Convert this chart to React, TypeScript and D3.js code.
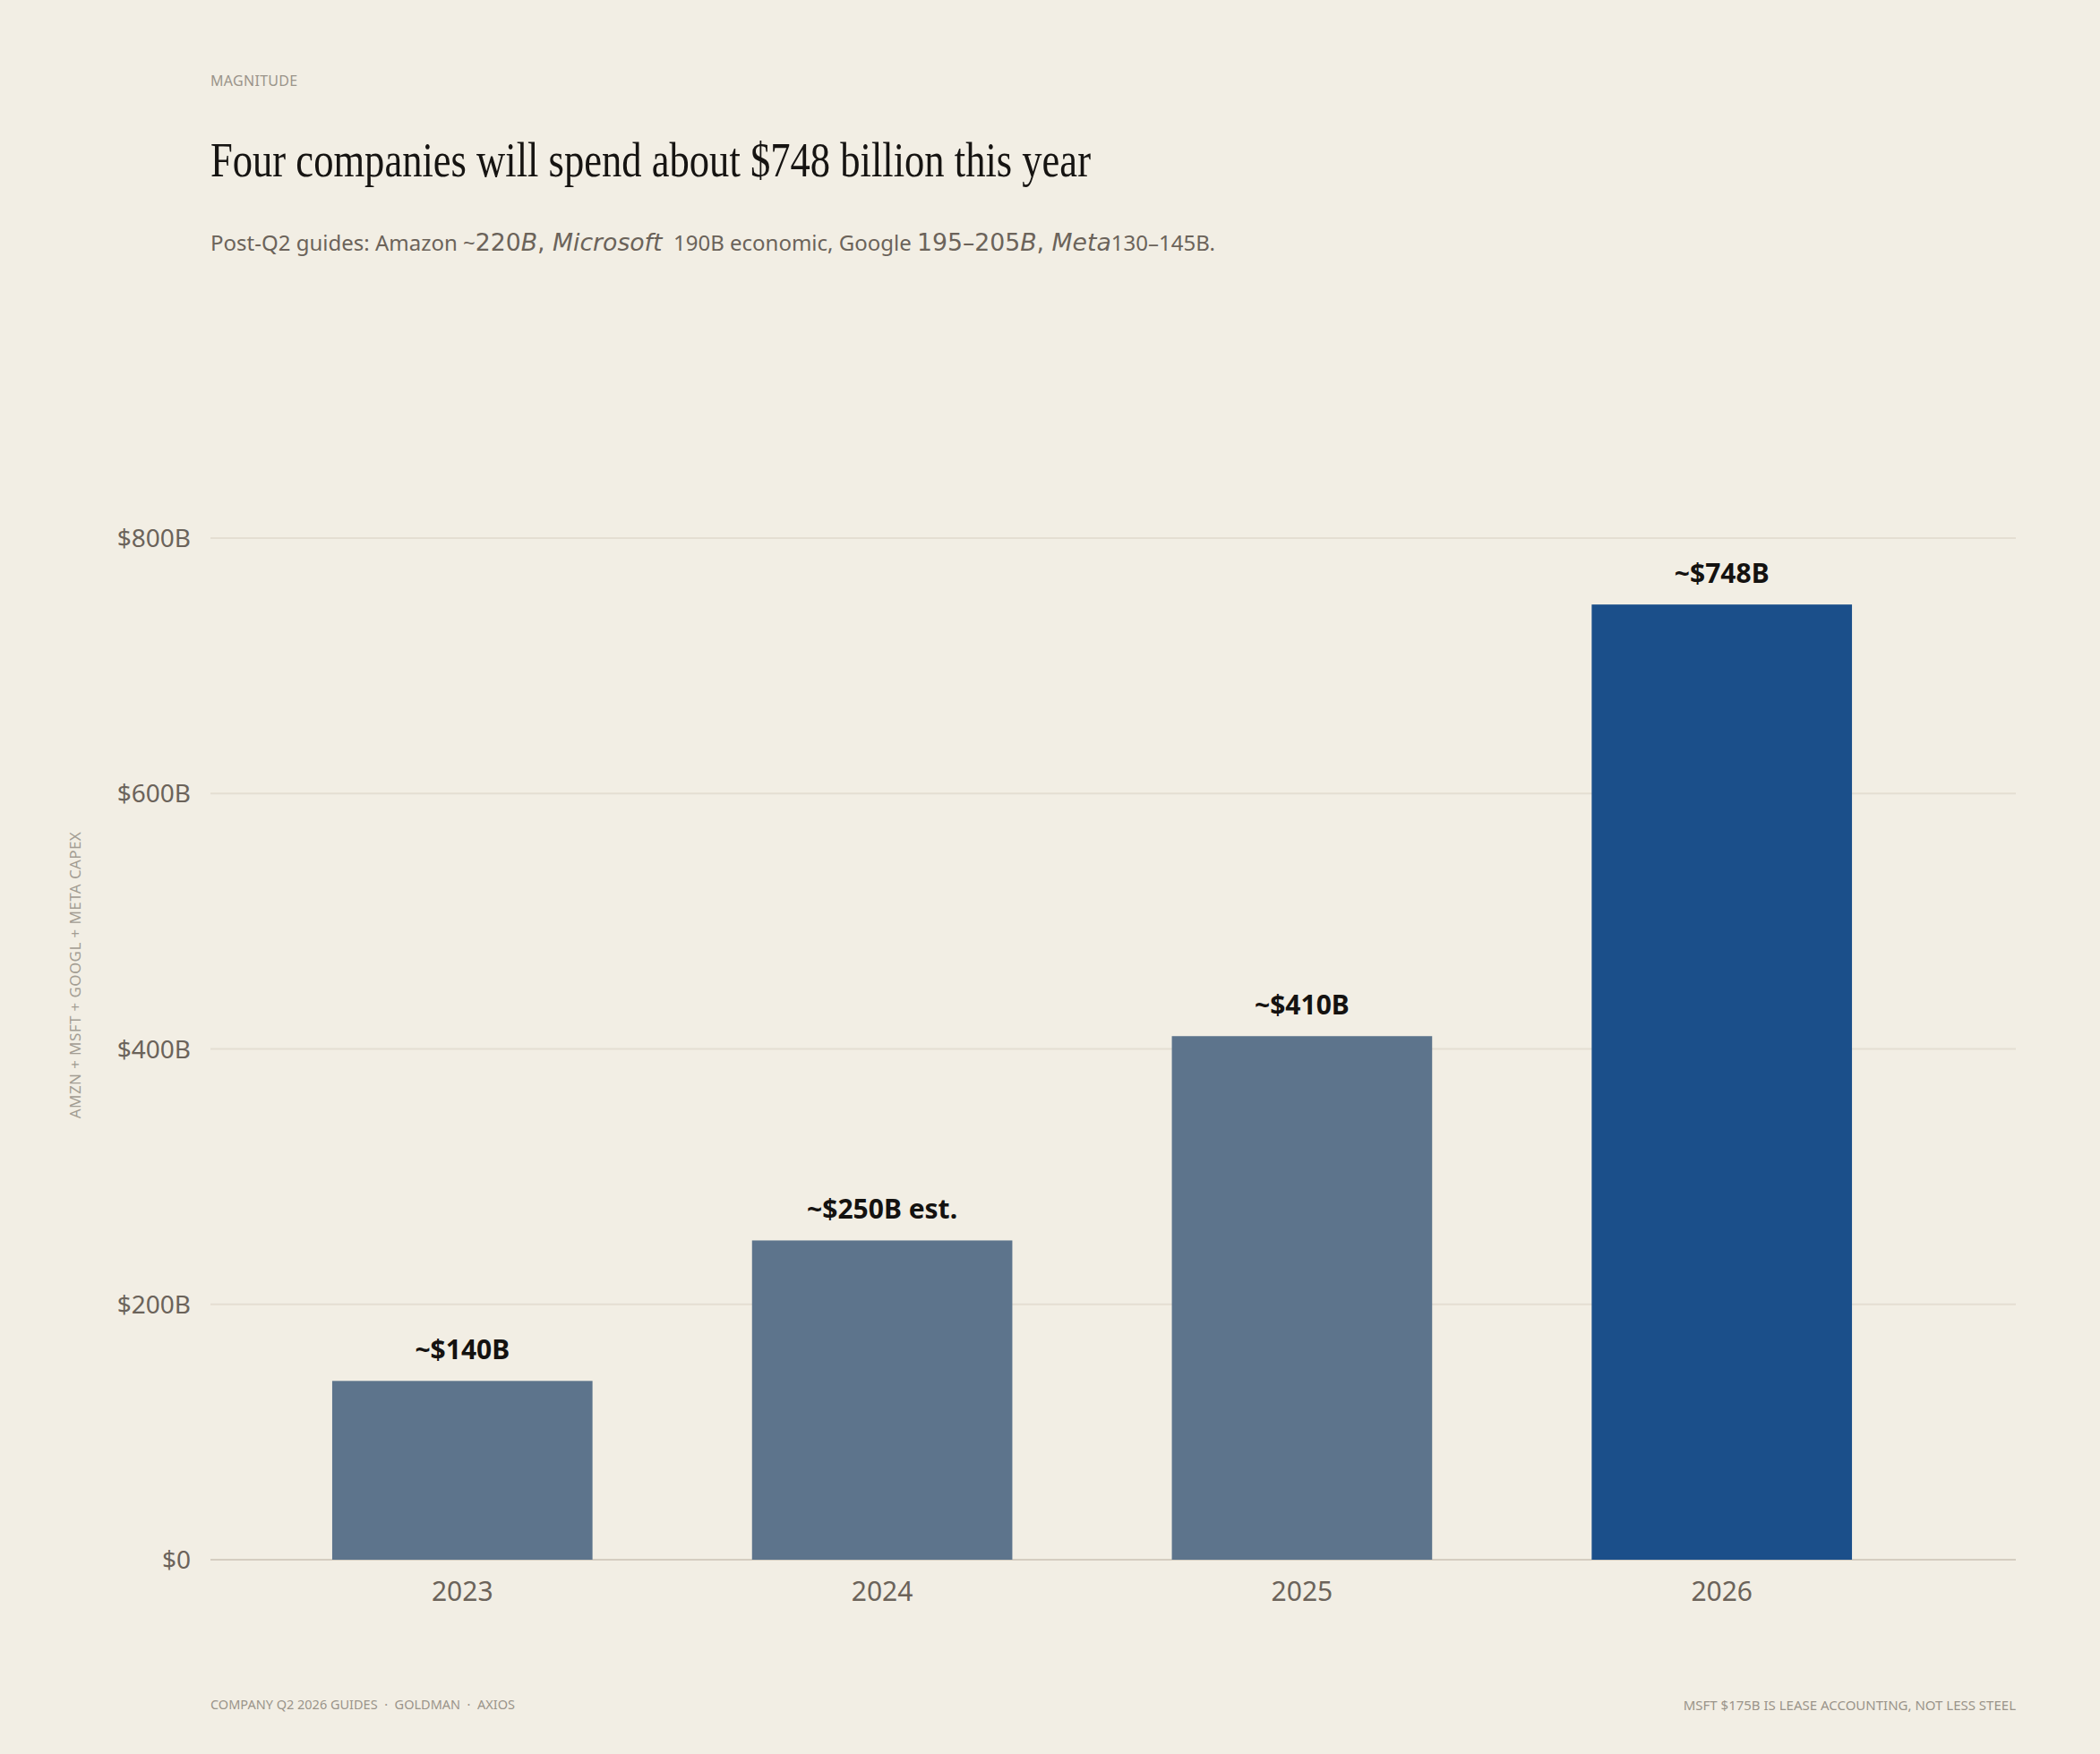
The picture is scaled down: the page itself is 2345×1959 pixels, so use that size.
import React from "react";
import * as d3 from "d3";

const years = ["2023", "2024", "2025", "2026"];
const capex = [140, 250, 410, 748];
const valueLabels = ["~$140B", "~$250B est.", "~$410B", "~$748B"];
const yTicks = [0, 200, 400, 600, 800];
const yTickLabels = ["$0", "$200B", "$400B", "$600B", "$800B"];
const highlightYear = "2026";

const W = 2345;
const H = 1959;
const BG = "#f2eee4";
const SANS = "'Noto Sans', 'Open Sans', sans-serif";
const MATH = "'DejaVu Sans', sans-serif";

export default function App() {
  const plotLeft = 235;
  const plotRight = 2251;
  const plotTop = 601;
  const plotBottom = 1742;

  const x = d3
    .scaleBand<string>()
    .domain(years)
    .range([plotLeft, 2204])
    .paddingInner(0.38)
    .paddingOuter(0.29);
  const y = d3.scaleLinear().domain([0, 800]).range([plotBottom, plotTop]);

  return (
    <div style={{ position: "fixed", left: 0, top: 0, width: W, height: H, background: BG }}>
      <svg width={W} height={H} style={{ display: "block" }}>
        <rect x={0} y={0} width={W} height={H} fill={BG} />
        {/* header */}
        <text x={235} y={96} fontFamily={SANS} fontSize={16} fill="#9a948a" letterSpacing={0.3}>
          MAGNITUDE
        </text>
        <text
          x={235}
          y={197}
          fontFamily="'Liberation Serif', 'DejaVu Serif', serif"
          fontSize={55}
          fill="#161412"
          textLength={983}
          lengthAdjust="spacingAndGlyphs"
        >
          Four companies will spend about $748 billion this year
        </text>
        <text x={235} y={280} fontFamily={SANS} fontSize={24} fill="#6b635a">
          <tspan>Post-Q2 guides: Amazon ~</tspan>
          <tspan fontFamily={MATH} fontSize={26.7}>220</tspan>
          <tspan fontFamily={MATH} fontSize={26.7} fontStyle="italic">B</tspan>
          <tspan fontFamily={MATH} fontSize={26.7}>, </tspan>
          <tspan fontFamily={MATH} fontSize={26.7} fontStyle="italic">Microsoft</tspan>
          <tspan>{"\u00a0 190B economic, Google "}</tspan>
          <tspan fontFamily={MATH} fontSize={26.7}>195–205</tspan>
          <tspan fontFamily={MATH} fontSize={26.7} fontStyle="italic">B</tspan>
          <tspan fontFamily={MATH} fontSize={26.7}>, </tspan>
          <tspan fontFamily={MATH} fontSize={26.7} fontStyle="italic">Meta</tspan>
          <tspan>130–145B.</tspan>
        </text>

        {/* gridlines */}
        {yTicks.map((t, i) => (
          <g key={t}>
            <line
              x1={plotLeft}
              x2={plotRight}
              y1={y(t)}
              y2={y(t)}
              stroke={t === 0 ? "#d5cdc0" : "#e4ded2"}
              strokeWidth={2}
            />
            <text
              x={plotLeft - 22}
              y={y(t)}
              dy="0.36em"
              textAnchor="end"
              fontFamily={SANS}
              fontSize={28}
              fill="#6b635a"
            >
              {yTickLabels[i]}
            </text>
          </g>
        ))}

        {/* bars */}
        {years.map((yr, i) => (
          <g key={yr}>
            <rect
              x={x(yr)}
              y={y(capex[i])}
              width={x.bandwidth()}
              height={y(0) - y(capex[i])}
              fill={yr === highlightYear ? "#1b4f8a" : "#5d748c"}
            />
            <text
              x={(x(yr) as number) + x.bandwidth() / 2}
              y={y(capex[i]) - 24}
              textAnchor="middle"
              fontFamily={SANS}
              fontWeight={700}
              fontSize={30}
              fill="#141210"
            >
              {valueLabels[i]}
            </text>
            <text
              x={(x(yr) as number) + x.bandwidth() / 2}
              y={1788}
              textAnchor="middle"
              fontFamily={SANS}
              fontSize={30}
              fill="#6b635a"
            >
              {yr}
            </text>
          </g>
        ))}

        {/* y axis title */}
        <text
          transform="translate(90,1089) rotate(-90)"
          textAnchor="middle"
          fontFamily={SANS}
          fontSize={17}
          fill="#a39d93"
          letterSpacing={0.4}
        >
          AMZN + MSFT + GOOGL + META CAPEX
        </text>

        {/* footer */}
        <text
          x={235}
          y={1909}
          fontFamily={SANS}
          fontSize={14.5}
          fill="#9a948a"
          textLength={340}
          lengthAdjust="spacing"
        >
          {"COMPANY Q2 2026 GUIDES\u00a0\u00a0·\u00a0\u00a0GOLDMAN\u00a0\u00a0·\u00a0\u00a0AXIOS"}
        </text>
        <text x={2251} y={1910} textAnchor="end" fontFamily={SANS} fontSize={15} fill="#9a948a">
          MSFT $175B IS LEASE ACCOUNTING, NOT LESS STEEL
        </text>
      </svg>
    </div>
  );
}
